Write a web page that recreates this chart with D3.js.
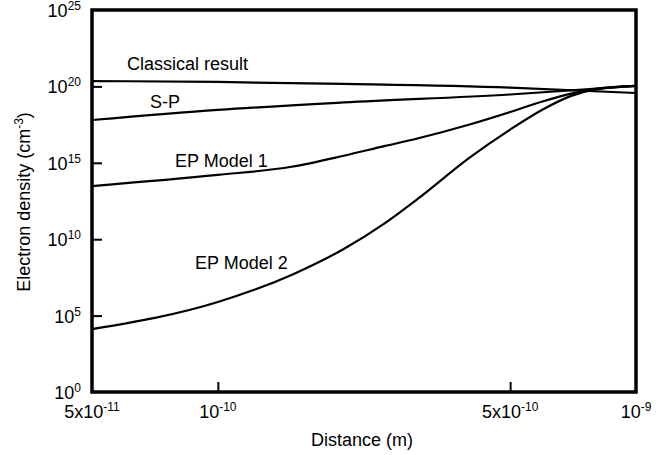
<!DOCTYPE html>
<html><head><meta charset="utf-8">
<script src="https://cdn.jsdelivr.net/npm/d3@7"></script>
<style>
html,body{margin:0;padding:0;background:#fff;}
svg{display:block;font-family:"Liberation Sans",Arial,sans-serif;}
</style></head>
<body><svg id="c" width="668" height="455"></svg>
<script>
// Distances (m)
const xClassical = [5e-11, 1e-10, 2e-10, 5e-10, 1e-9];
const yClassical = [2.24e20, 1.95e20, 1.45e20, 8.3e19, 3.7e19];
const xSP = [5e-11, 1e-10, 2e-10, 5e-10, 1e-9];
const ySP = [6.3e17, 2.9e18, 8.9e18, 2.95e19, 1.07e20];
const xEP = [5e-11, 1e-10, 1.5e-10, 2e-10, 2.5e-10, 3e-10, 4e-10, 5e-10, 6e-10, 7e-10, 8e-10, 1e-9];
const yEP1 = [3.0e13, 1.6e14, 5.5e14, 2.9e15, 1.23e16, 3.9e16, 3.2e17, 2.1e18, 1.07e19, 3.4e19, 6.8e19, 1.07e20];
const yEP2 = [1.3e4, 7.8e5, 4.6e7, 2.3e9, 1.05e11, 4.2e12, 2.2e15, 1.5e17, 3.2e18, 2.4e19, 6.3e19, 1.07e20];
const seriesNames = ["Classical result", "S-P", "EP Model 1", "EP Model 2"];
const yTickExps = ["0", "5", "10", "15", "20", "25"];
const yTickVals = [1, 1e5, 1e10, 1e15, 1e20, 1e25];
const xTickVals = [5e-11, 1e-10, 5e-10, 1e-9];
const xTickBase = ["5x10", "10", "5x10", "10"];
const xTickExps = ["-11", "-10", "-10", "-9"];

const svg = d3.select("#c");
const L = 92, R = 636, T = 10, B = 392;
const x = d3.scaleLog().domain([5e-11, 1e-9]).range([L, R]);
const y = d3.scaleLog().domain([1, 1e25]).range([B, T]);

// ticks (inward)
const yAxis = d3.axisRight(y).tickValues([1e5, 1e10, 1e15, 1e20]).tickSize(10).tickFormat("");
svg.append("g").attr("transform", `translate(${L},0)`).call(yAxis)
  .call(g => g.select(".domain").remove())
  .call(g => g.selectAll("line").attr("stroke", "#000").attr("stroke-width", 2));
const xAxis = d3.axisTop(x).tickValues([1e-10, 5e-10]).tickSize(10).tickFormat("");
svg.append("g").attr("transform", `translate(0,${B})`).call(xAxis)
  .call(g => g.select(".domain").remove())
  .call(g => g.selectAll("line").attr("stroke", "#000").attr("stroke-width", 2));

// curves
const line = d3.line().x(d => x(d[0])).y(d => y(d[1])).curve(d3.curveMonotoneX);
const data = [
  d3.zip(xClassical, yClassical),
  d3.zip(xSP, ySP),
  d3.zip(xEP, yEP1),
  d3.zip(xEP, yEP2)
];
svg.append("g").selectAll("path").data(data).join("path")
  .attr("d", line).attr("fill", "none").attr("stroke", "#000").attr("stroke-width", 2.2);

// frame
svg.append("rect").attr("x", L).attr("y", T).attr("width", R - L).attr("height", B - T)
  .attr("fill", "none").attr("stroke", "#000").attr("stroke-width", 3.5);

// y tick labels
yTickVals.forEach((v, i) => {
  const t = svg.append("text").attr("x", 81).attr("y", y(v) + 7).attr("text-anchor", "end")
    .attr("font-size", 18);
  t.append("tspan").text("10");
  t.append("tspan").attr("font-size", 12).attr("dy", -7).text(yTickExps[i]);
});
// x tick labels
xTickVals.forEach((v, i) => {
  const t = svg.append("text").attr("x", x(v)).attr("y", 418).attr("text-anchor", "middle")
    .attr("font-size", 18);
  t.append("tspan").text(xTickBase[i]);
  t.append("tspan").attr("font-size", 12).attr("dy", -7).text(xTickExps[i]);
});

// axis titles
svg.append("text").attr("x", 362).attr("y", 446).attr("text-anchor", "middle")
  .attr("font-size", 18).text("Distance (m)");
const yt = svg.append("text").attr("transform", "translate(30,202) rotate(-90)")
  .attr("text-anchor", "middle").attr("font-size", 18);
yt.append("tspan").text("Electron density (cm");
yt.append("tspan").attr("font-size", 12).attr("dy", -7).text("-3");
yt.append("tspan").attr("dy", 7).text(")");

// series labels
const labelPos = [[127, 70], [150, 108], [175, 167], [195, 269]];
svg.append("g").selectAll("text").data(seriesNames).join("text")
  .attr("x", (d, i) => labelPos[i][0]).attr("y", (d, i) => labelPos[i][1])
  .attr("font-size", 18).text(d => d);
</script></body></html>
